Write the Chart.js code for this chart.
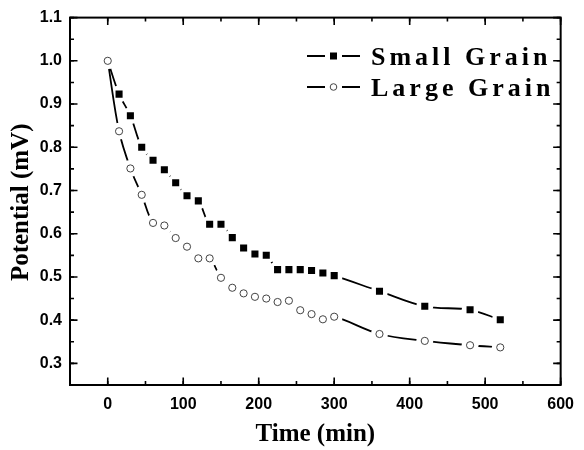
<!DOCTYPE html>
<html>
<head>
<meta charset="utf-8">
<script src="https://cdn.jsdelivr.net/npm/chart.js@4.4.1/dist/chart.umd.min.js"></script>
<style>
  html, body { margin: 0; padding: 0; background: #fff; }
  #wrap { width: 584px; height: 450px; position: relative; }
</style>
</head>
<body>
<div id="wrap"><canvas id="grafico"></canvas></div>
<script>
// === Dados ===
const tempos = [0, 15, 30, 45, 60, 75, 90, 105, 120, 135, 150, 165, 180, 195, 210, 225, 240, 255, 270, 285, 300, 360, 420, 480, 520];
const graoPequeno = [1.0, 0.923, 0.873, 0.800, 0.770, 0.748, 0.718, 0.688, 0.676, 0.622, 0.622, 0.591, 0.567, 0.553, 0.550, 0.517, 0.517, 0.517, 0.515, 0.509, 0.503, 0.467, 0.432, 0.424, 0.401];
const graoGrande = [1.0, 0.837, 0.751, 0.690, 0.625, 0.619, 0.590, 0.570, 0.543, 0.543, 0.498, 0.475, 0.462, 0.454, 0.450, 0.442, 0.445, 0.423, 0.414, 0.402, 0.408, 0.368, 0.352, 0.342, 0.337];
const nomesSeries = ["Small Grain", "Large Grain"];
const tituloX = "Time (min)";
const tituloY = "Potential (mV)";
const ticksX = [-50, 600, 100, 50];   // min, max, passo maior, passo menor
const ticksY = [0.25, 1.1, 0.1, 0.05];

function pontos(valores) {
  return tempos.map((t, i) => ({ x: t, y: valores[i] }));
}

// === Linha + halo branco + marcadores (estilo Origin) ===
function serie(valores, nome, estilo, base) {
  const dados = pontos(valores);
  return [
    { label: nome, data: dados, order: base + 2, showLine: true, tension: 0.35,
      borderColor: "#000", borderWidth: 1.8, pointRadius: 0, fill: false },
    { label: nome + "_halo", data: dados, order: base + 1, showLine: false,
      pointStyle: "circle", pointRadius: 8.5, pointBackgroundColor: "#fff",
      pointBorderWidth: 0, pointBorderColor: "#fff" },
    { label: nome + "_marca", data: dados, order: base, showLine: false,
      pointStyle: estilo.tipo,
      pointRadius: estilo.raio,
      pointBackgroundColor: estilo.fundo,
      pointBorderColor: estilo.borda,
      pointBorderWidth: estilo.espessura }
  ];
}

const estiloQuadrado = { tipo: "rect", raio: ctx => (ctx.dataIndex === 0 ? 0 : 5), fundo: "#000", borda: "#000", espessura: 0 };
const estiloCirculo = { tipo: "circle", raio: 3.6, fundo: "#fff", borda: "#444", espessura: 1 };

// === Moldura com ticks internos nos quatro lados ===
const moldura = {
  id: "moldura",
  afterDraw(chart) {
    const { ctx, chartArea: a, scales } = chart;
    ctx.save();
    ctx.strokeStyle = "#000";
    ctx.lineWidth = 1.6;
    function marcas(escala, passo, tam) {
      const min = escala.min, max = escala.max;
      for (let v = Math.ceil(min / passo - 1e-9) * passo; v <= max + 1e-9; v += passo) {
        const p = escala.getPixelForValue(v);
        ctx.beginPath();
        if (escala.isHorizontal()) {
          ctx.moveTo(p, a.bottom); ctx.lineTo(p, a.bottom - tam);
          ctx.moveTo(p, a.top); ctx.lineTo(p, a.top + tam);
        } else {
          ctx.moveTo(a.left, p); ctx.lineTo(a.left + tam, p);
          ctx.moveTo(a.right, p); ctx.lineTo(a.right - tam, p);
        }
        ctx.stroke();
      }
    }
    marcas(scales.x, ticksX[3], 4);
    marcas(scales.x, ticksX[2], 7.5);
    marcas(scales.y, ticksY[3], 4);
    marcas(scales.y, ticksY[2], 7.5);
    ctx.lineWidth = 2;
    ctx.strokeRect(a.left, a.top, a.right - a.left, a.bottom - a.top);

    // títulos dos eixos
    ctx.fillStyle = "#000";
    ctx.font = "bold 25px 'Liberation Serif', 'Times New Roman', serif";
    ctx.textAlign = "center";
    ctx.textBaseline = "alphabetic";
    ctx.fillText(tituloX, (a.left + a.right) / 2, 441);
    ctx.save();
    ctx.translate(28, (a.top + a.bottom) / 2 + 1);
    ctx.rotate(-Math.PI / 2);
    ctx.fillText(tituloY, 0, 0);
    ctx.restore();

    // legenda
    const linhas = [
      { nome: nomesSeries[0], y: 56, tipo: "rect" },
      { nome: nomesSeries[1], y: 87, tipo: "circle" }
    ];
    ctx.font = "bold 26px 'Liberation Serif', 'Times New Roman', serif";
    ctx.textAlign = "left";
    if ("letterSpacing" in ctx) ctx.letterSpacing = "4px";
    linhas.forEach(l => {
      ctx.lineWidth = 1.8;
      ctx.beginPath();
      ctx.moveTo(307, l.y); ctx.lineTo(325, l.y);
      ctx.moveTo(342, l.y); ctx.lineTo(360, l.y);
      ctx.stroke();
      if (l.tipo === "rect") {
        ctx.fillRect(330, l.y - 3.5, 7, 7);
      } else {
        ctx.save();
        ctx.lineWidth = 1;
        ctx.strokeStyle = "#444";
        ctx.beginPath();
        ctx.arc(333.5, l.y, 3.3, 0, Math.PI * 2);
        ctx.stroke();
        ctx.restore();
      }
      ctx.fillText(l.nome, 371, l.y + 9);
    });
    ctx.restore();
  }
};

const ctx = document.getElementById("grafico").getContext("2d");
new Chart(ctx, {
  type: "scatter",
  data: {
    datasets: [
      ...serie(graoPequeno, nomesSeries[0], estiloQuadrado, 4),
      ...serie(graoGrande, nomesSeries[1], estiloCirculo, 1)
    ]
  },
  options: {
    responsive: true,
    maintainAspectRatio: false,
    animation: false,
    layout: { padding: { left: 0, top: 15, right: 18, bottom: 0 } },
    plugins: { legend: { display: false }, tooltip: { enabled: false } },
    scales: {
      x: {
        type: "linear", min: ticksX[0], max: ticksX[1],
        grid: { display: false, drawTicks: false },
        border: { display: false },
        ticks: { stepSize: ticksX[2], includeBounds: false, padding: 10, color: "#000",
          font: { family: "'Liberation Sans', Arial, sans-serif", size: 16, weight: "bold" } },
        afterFit: s => { s.height = 65; }
      },
      y: {
        type: "linear", min: ticksY[0], max: ticksY[1],
        grid: { display: false, drawTicks: false },
        border: { display: false },
        ticks: { stepSize: ticksY[2], includeBounds: false, padding: 8, color: "#000",
          callback: v => v.toFixed(1),
          font: { family: "'Liberation Sans', Arial, sans-serif", size: 16, weight: "bold" } },
        afterFit: s => { s.width = 70; }
      }
    }
  },
  plugins: [moldura]
});
</script>
</body>
</html>
